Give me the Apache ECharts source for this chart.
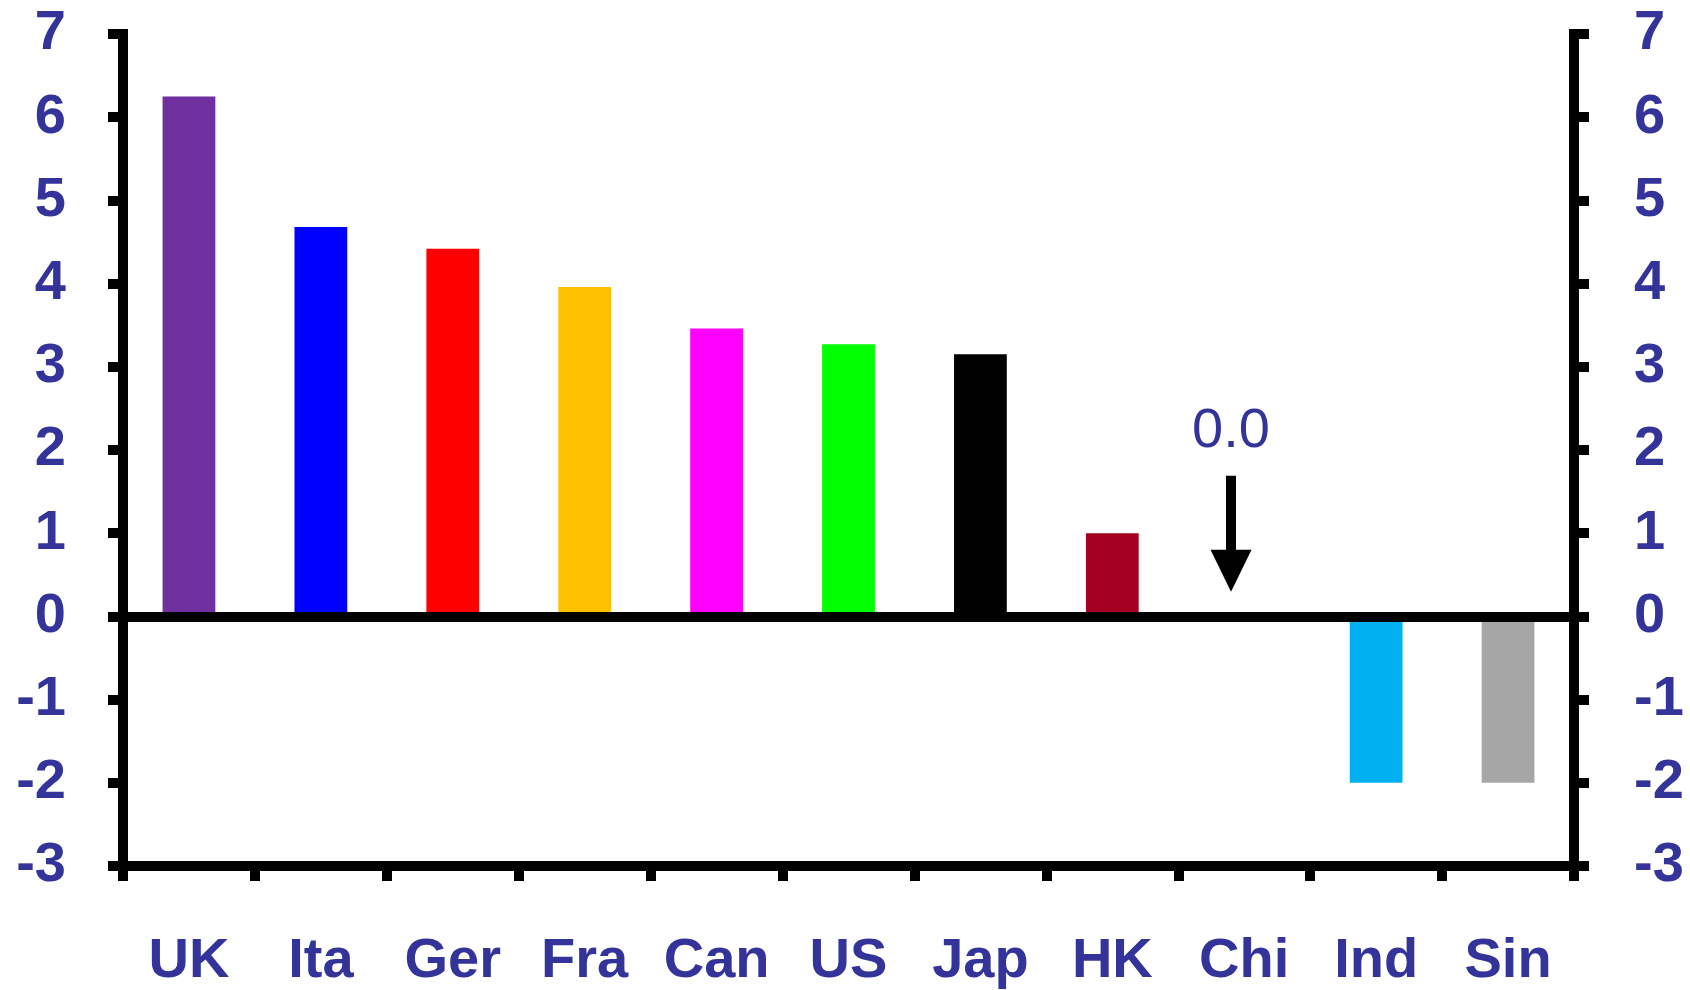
<!DOCTYPE html>
<html>
<head>
<meta charset="utf-8">
<title>Bar chart</title>
<script src="https://cdn.jsdelivr.net/npm/echarts@6/dist/echarts.min.js"></script>
<style>
  html, body { margin: 0; padding: 0; background: #ffffff; }
  #chart { width: 1690px; height: 990px; }
</style>
</head>
<body>
<div id="chart"></div>
<script>
// Country categories and their values
const categories = ['UK', 'Ita', 'Ger', 'Fra', 'Can', 'US', 'Jap', 'HK', 'Chi', 'Ind', 'Sin'];
const values = [6.25, 4.68, 4.42, 3.96, 3.46, 3.27, 3.15, 1.0, 0.0, -2.0, -2.0];
const barColors = ['#7030A0', '#0000FF', '#FF0000', '#FFC000', '#FF00FF', '#00FF00',
                   '#000000', '#A50021', '#FFFFFF', '#00B0F0', '#A6A6A6'];

// Value axis range
const yMin = -3;
const yMax = 7;
const yStep = 1;

// Callout for the zero-valued category (x given in category units, 0 = left edge)
const calloutCategory = 'Chi';
const calloutX = 8.4;
const calloutArrowFrom = 1.69;
const calloutArrowTo = 0.55;
const calloutLabelAt = 2.22;

const textColor = '#333399';
const font = "'Liberation Sans', Arial, sans-serif";

const calloutValue = values[categories.indexOf(calloutCategory)];

const chart = echarts.init(document.getElementById('chart'), null, { renderer: 'canvas' });

const valueAxis = (position) => ({
  type: 'value',
  position: position,
  min: yMin,
  max: yMax,
  interval: yStep,
  splitLine: { show: false },
  axisLine: { show: true, lineStyle: { color: '#000', width: 10, cap: 'square' } },
  axisTick: { show: true, inside: false, length: 15, lineStyle: { color: '#000', width: 10 } },
  axisLabel: {
    show: true,
    margin: position === 'left' ? 57 : 60,
    color: textColor,
    fontFamily: font,
    fontWeight: 'bold',
    fontSize: 56
  },
  z: 5
});

chart.setOption({
  animation: false,
  backgroundColor: '#ffffff',
  grid: { left: 123, right: 116, top: 34, bottom: 123, containLabel: false },
  xAxis: [
    {
      type: 'category',
      data: categories,
      position: 'bottom',
      boundaryGap: true,
      axisLine: { show: true, onZero: false, lineStyle: { color: '#000', width: 10, cap: 'square' } },
      axisTick: { show: true, alignWithLabel: false, length: 15, lineStyle: { color: '#000', width: 10 } },
      axisLabel: {
        show: true,
        interval: 0,
        margin: 68,
        color: textColor,
        fontFamily: font,
        fontWeight: 'bold',
        fontSize: 56
      },
      z: 5
    },
    {
      // zero baseline
      type: 'category',
      data: categories,
      position: 'top',
      axisLine: { show: true, onZero: true, lineStyle: { color: '#000', width: 10 } },
      axisTick: { show: false },
      axisLabel: { show: false },
      z: 5
    },
    {
      // hidden continuous axis for placing the callout
      type: 'value',
      min: 0,
      max: categories.length,
      show: false,
      axisLine: { onZero: false }
    }
  ],
  yAxis: [valueAxis('left'), valueAxis('right')],
  series: [
    {
      type: 'bar',
      xAxisIndex: 0,
      yAxisIndex: 0,
      barWidth: '40%',
      data: values.map((v, i) => ({ value: v, itemStyle: { color: barColors[i] } })),
      z: 2
    },
    {
      type: 'scatter',
      xAxisIndex: 2,
      yAxisIndex: 0,
      symbolSize: 0,
      silent: true,
      data: [],
      markLine: {
        silent: true,
        symbol: ['none', 'triangle'],
        symbolSize: [41, 42],
        lineStyle: { color: '#000', width: 10, type: 'solid' },
        label: { show: false },
        data: [[
          { coord: [calloutX, calloutArrowFrom] },
          { coord: [calloutX, calloutArrowTo] }
        ]]
      },
      markPoint: {
        silent: true,
        symbol: 'circle',
        symbolSize: 0,
        itemStyle: { color: 'rgba(0,0,0,0)' },
        label: {
          show: true,
          position: 'inside',
          formatter: () => calloutValue.toFixed(1),
          color: textColor,
          fontFamily: font,
          fontWeight: 'normal',
          fontSize: 56
        },
        data: [{ coord: [calloutX, calloutLabelAt] }]
      }
    }
  ]
});
</script>
</body>
</html>
